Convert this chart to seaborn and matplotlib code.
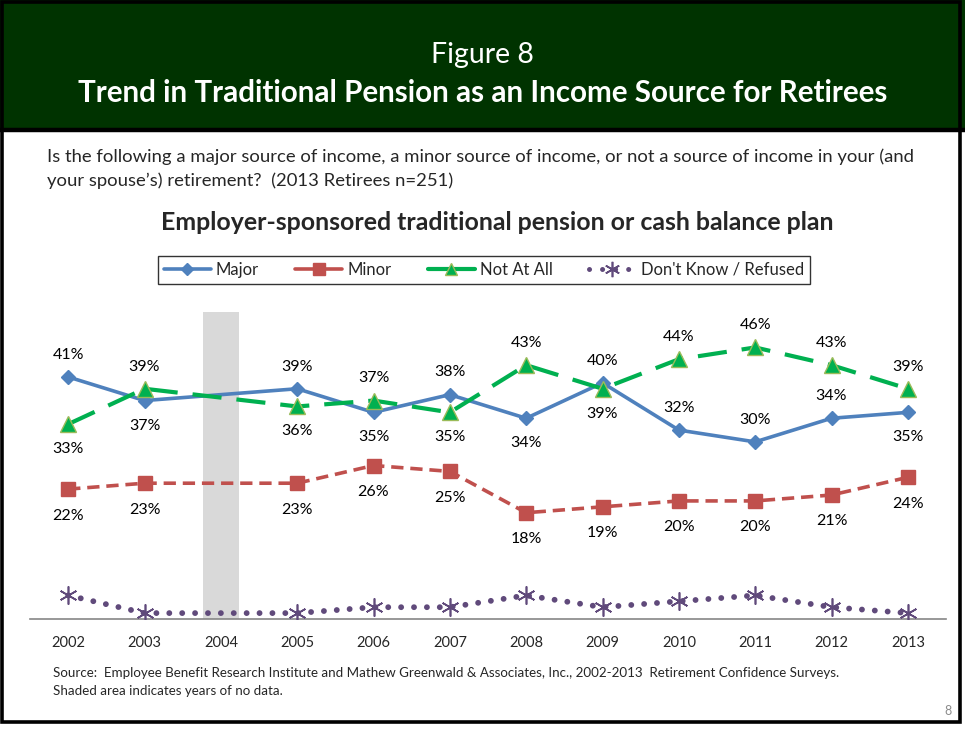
import matplotlib
matplotlib.use("Agg")
import matplotlib.pyplot as plt
from matplotlib.patches import Rectangle
from matplotlib.lines import Line2D
import seaborn as sns
import pandas as pd

# Survey years with data (no survey question in 2004)
years = [2002, 2003, 2005, 2006, 2007, 2008, 2009, 2010, 2011, 2012, 2013]
tick_years = [2002, 2003, 2004, 2005, 2006, 2007, 2008, 2009, 2010, 2011, 2012, 2013]
gap_year = 2004

major = [41, 37, 39, 35, 38, 34, 40, 32, 30, 34, 35]
minor = [22, 23, 23, 26, 25, 18, 19, 20, 20, 21, 24]
not_at_all = [33, 39, 36, 37, 35, 43, 39, 44, 46, 43, 39]
dont_know = [4, 1, 1, 2, 2, 4, 2, 3, 4, 2, 1]

# label placement: +1 above the point, -1 below
major_pos = [1, -1, 1, -1, 1, -1, 1, 1, 1, 1, -1]
minor_pos = [-1] * 11
not_pos = [-1, 1, -1, 1, -1, 1, -1, 1, 1, 1, 1]

sns.set_style("white")
plt.rcParams["font.family"] = ["Lato", "DejaVu Sans"]

W, H = 965, 730
fig = plt.figure(figsize=(W / 100, H / 100), dpi=100)
fig.patch.set_facecolor("white")

def fx(px):
    return px / W

def fy(py):
    return 1 - py / H

# header band
fig.patches.append(Rectangle((0, fy(129)), 1, 129 / H, transform=fig.transFigure,
                             facecolor="#003300", edgecolor="none", zorder=0))
fig.add_artist(Line2D([0, 1], [fy(129.5), fy(129.5)], transform=fig.transFigure,
                      color="black", lw=3.2))
# outer frame
fig.patches.append(Rectangle((fx(2), fy(722)), fx(958), 720 / H, transform=fig.transFigure,
                             facecolor="none", edgecolor="black", lw=2.6, zorder=5))

fig.text(0.5, fy(55), "Figure 8", color="white", fontsize=20.5, ha="center", va="center")
fig.text(0.5, fy(93), "Trend in Traditional Pension as an Income Source for Retirees",
         color="white", fontsize=21.3, fontweight="bold", ha="center", va="center")

fig.text(fx(47), fy(157), "Is the following a major source of income, a minor source of income, "
         "or not a source of income in your (and", fontsize=13.3, ha="left", va="center")
fig.text(fx(47), fy(181), "your spouse\u2019s) retirement?  (2013 Retirees n=251)",
         fontsize=13.3, ha="left", va="center")
fig.text(fx(497), fy(223), "Employer-sponsored traditional pension or cash balance plan",
         fontsize=17.9, fontweight="bold", ha="center", va="center")

fig.text(fx(53), fy(673), "Source:  Employee Benefit Research Institute and Mathew Greenwald & "
         "Associates, Inc., 2002-2013  Retirement Confidence Surveys.", fontsize=9.6,
         ha="left", va="center")
fig.text(fx(53), fy(691), "Shaded area indicates years of no data.", fontsize=9.6,
         ha="left", va="center")
fig.text(fx(948), fy(711), "8", fontsize=9, color="#8c8c8c", ha="center", va="center")

# plotting area
ax = fig.add_axes([fx(30), fy(619), fx(946) - fx(30), (619 - 312) / H])
ax.set_xlim(2001.5, 2013.5)
ax.set_ylim(0, 52)

ax.axvspan(gap_year - 0.24, gap_year + 0.24, color="#d9d9d9", zorder=0, lw=0)

df = pd.DataFrame({"year": years, "Major": major, "Minor": minor,
                   "Not At All": not_at_all, "Don't Know / Refused": dont_know})

styles = {
    "Major": dict(color="#4f81bd", marker="D", markersize=7.5, lw=2.6,
                  ls="-", mec="#4f81bd", mew=1.0, cap="butt"),
    "Minor": dict(color="#c0504d", marker="s", markersize=10.5, lw=2.6,
                  ls=(0, (3.4, 1.9)), mec="#c0504d", mew=1.0, cap="butt"),
    "Not At All": dict(color="#00b050", marker="^", markersize=11, lw=3.0,
                       ls=(0, (7.0, 3.6)), mec="#9bbb59", mew=1.0, cap="butt"),
    "Don't Know / Refused": dict(color="#604a7b", marker=(6, 2, 0), markersize=13,
                                 lw=4.2, ls=(0, (0.01, 2.2)), mec="#604a7b", mew=1.2,
                                 cap="round"),
}

for name, st in styles.items():
    sns.lineplot(data=df, x="year", y=name, ax=ax, color=st["color"], lw=st["lw"],
                 linestyle=st["ls"], marker=st["marker"], markersize=st["markersize"],
                 markeredgecolor=st["mec"], markeredgewidth=st["mew"],
                 dash_capstyle=st["cap"], zorder=3, legend=False)

def label(vals, pos, off_up=16, off_dn=18):
    for x, v, p in zip(years, vals, pos):
        ax.annotate(f"{v}%", (x, v), xytext=(0, off_up if p > 0 else -off_dn),
                    textcoords="offset points", ha="center", va="center",
                    fontsize=11.5, color="black")

label(major, major_pos)
label(not_at_all, not_pos)
label(minor, minor_pos, off_dn=19)

ax.set_xticks(tick_years)
ax.set_xticklabels([str(y) for y in tick_years], fontsize=10.5)
ax.tick_params(axis="x", length=0, pad=12)
ax.set_yticks([])
ax.set_xlabel("")
ax.set_ylabel("")
for s in ["top", "left", "right"]:
    ax.spines[s].set_visible(False)
ax.spines["bottom"].set_color("#868686")
ax.spines["bottom"].set_linewidth(1.2)

# legend keys: solid strokes for the line series, dotted for the last one
handles = []
for n, st in styles.items():
    solid = not n.startswith("Don")
    handles.append(Line2D([], [], color=st["color"], lw=st["lw"] if solid else 3.6,
                          ls="-" if solid else (0, (0.01, 2.6)),
                          marker=st["marker"], markersize=st["markersize"] * 0.85,
                          mec=st["mec"], mew=st["mew"], dash_capstyle=st["cap"]))
leg = fig.legend(handles, list(styles.keys()), loc="center", bbox_to_anchor=(fx(484), fy(270)),
                 ncol=4, fontsize=12, frameon=True, fancybox=False, edgecolor="black",
                 handlelength=2.8, handletextpad=0.3, columnspacing=2.2,
                 borderpad=0.35, borderaxespad=0)
leg.get_frame().set_linewidth(1.0)

fig.savefig("out.png", dpi=100, facecolor="white")
